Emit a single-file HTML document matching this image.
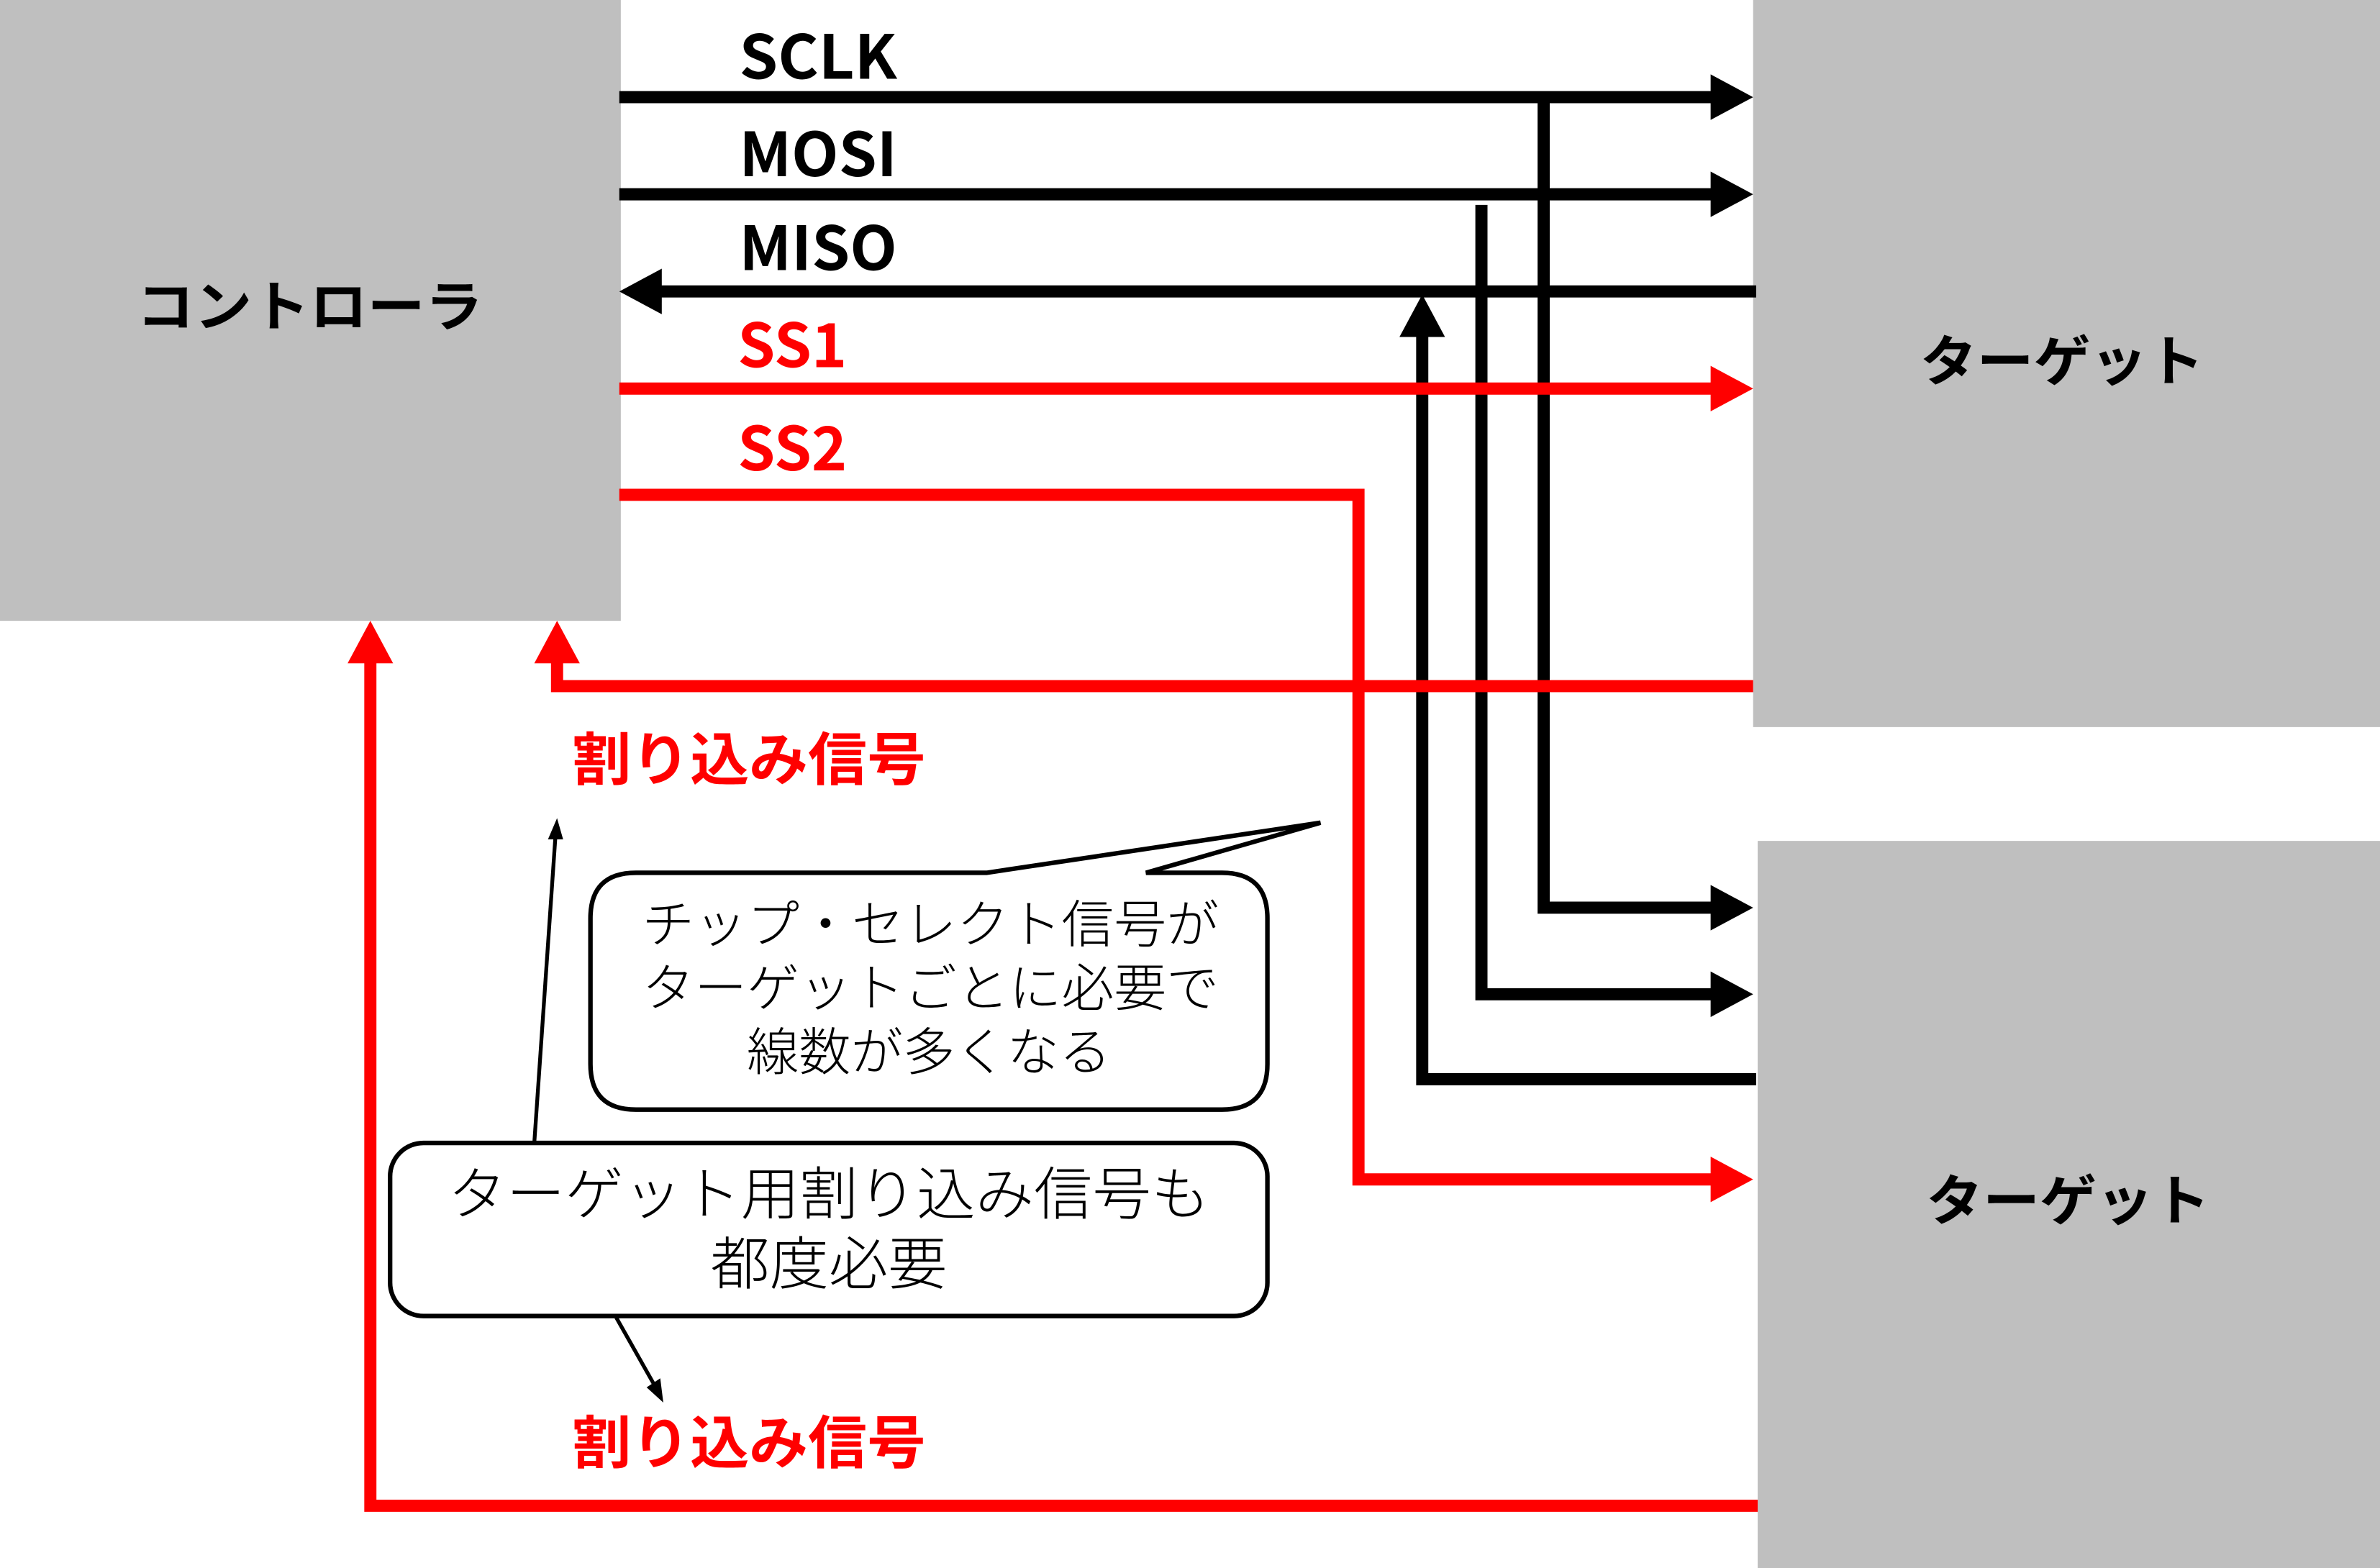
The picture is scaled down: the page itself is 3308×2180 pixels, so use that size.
<!DOCTYPE html>
<html><head><meta charset="utf-8"><style>html,body{margin:0;padding:0;background:#fff}svg{display:block}</style></head>
<body>
<svg width="3308" height="2180" viewBox="0 0 1568 1033" preserveAspectRatio="none" xmlns="http://www.w3.org/2000/svg" font-family="'Liberation Sans','Noto Sans CJK JP',sans-serif">
<rect x="0" y="0" width="409" height="409" fill="#bfbfbf"/>
<rect x="1155" y="0" width="413" height="479" fill="#bfbfbf"/>
<rect x="1158" y="554" width="410" height="479" fill="#bfbfbf"/>
<g font-weight="bold" font-size="36" fill="#000" font-family="'Noto Sans CJK JP',sans-serif" lengthAdjust="spacingAndGlyphs">
<text x="90" y="215" textLength="228" lengthAdjust="spacingAndGlyphs">コントローラ</text>
<text x="1265" y="251" textLength="187" lengthAdjust="spacingAndGlyphs">ターゲット</text>
<text x="1269" y="804" textLength="187" lengthAdjust="spacingAndGlyphs">ターゲット</text>
</g>
<g font-weight="bold" font-size="40" font-family="'Noto Sans CJK JP','Liberation Sans',sans-serif">
<text x="487" y="52" textLength="104" lengthAdjust="spacingAndGlyphs">SCLK</text>
<text x="487" y="116" textLength="104" lengthAdjust="spacingAndGlyphs">MOSI</text>
<text x="487" y="178" textLength="104" lengthAdjust="spacingAndGlyphs">MISO</text>
<text x="486" y="242" fill="#f00" textLength="72" lengthAdjust="spacingAndGlyphs">SS1</text>
<text x="486" y="310" fill="#f00" textLength="72" lengthAdjust="spacingAndGlyphs">SS2</text>
<text x="377" y="514" fill="#f00" font-size="38" textLength="233" lengthAdjust="spacingAndGlyphs">割り込み信号</text>
<text x="377" y="964" fill="#f00" font-size="38" textLength="233" lengthAdjust="spacingAndGlyphs">割り込み信号</text>
</g>
<g stroke="#000" stroke-width="8" fill="none">
<polyline points="408,64 1130,64"/>
<polyline points="408,128 1130,128"/>
<polyline points="1157,192 434,192"/>
<polyline points="1017,68 1017,598 1130,598"/>
<polyline points="976,135 976,655 1130,655"/>
<polyline points="1157,711 937,711 937,220"/>
</g>
<g fill="#000">
<polygon points="1127,49 1155,64 1127,79"/>
<polygon points="1127,113 1155,128 1127,143"/>
<polygon points="436,177 408,192 436,207"/>
<polygon points="1127,583 1155,598 1127,613"/>
<polygon points="1127,640 1155,655 1127,670"/>
<polygon points="922,222 937,194 952,222"/>
</g>
<g stroke="#f00" stroke-width="8" fill="none">
<polyline points="408,256 1130,256"/>
<polyline points="408,326 895,326 895,777 1130,777"/>
<polyline points="1155,452 367,452 367,435"/>
<polyline points="1158,992 244,992 244,435"/>
</g>
<g fill="#f00">
<polygon points="1127,241 1155,256 1127,271"/>
<polygon points="1127,762 1155,777 1127,792"/>
<polygon points="352,437 367,409 382,437"/>
<polygon points="229,437 244,409 259,437"/>
</g>
<path d="M420,575 L650,575 L870,542 L755,575 L805,575 Q835,575 835,605 L835,701 Q835,731 805,731 L419,731 Q389,731 389,701 L389,605 Q389,575 419,575 Z" fill="#fff" stroke="#000" stroke-width="3"/>
<rect x="257" y="753" width="578" height="114" rx="22" fill="#fff" stroke="#000" stroke-width="3"/>
<g stroke="#000" stroke-width="2.5" fill="none">
<line x1="352" y1="753" x2="366" y2="550"/>
<line x1="406" y1="868" x2="432" y2="914"/>
</g>
<polygon points="361,553 367,539 371,553" fill="#000"/>
<polygon points="426,914 437,924 435,908" fill="#000"/>
<g font-size="34" fill="#000" font-family="'Noto Sans CJK JP',sans-serif" font-weight="300">
<text x="423" y="621" textLength="380" lengthAdjust="spacingAndGlyphs">チップ・セレクト信号が</text>
<text x="423" y="663" textLength="380" lengthAdjust="spacingAndGlyphs">ターゲットごとに必要で</text>
<text x="492" y="705" textLength="240" lengthAdjust="spacingAndGlyphs">線数が多くなる</text>
<text x="295" y="800" font-size="38" textLength="502" lengthAdjust="spacingAndGlyphs">ターゲット用割り込み信号も</text>
<text x="468" y="846" font-size="38" textLength="156" lengthAdjust="spacingAndGlyphs">都度必要</text>
</g>
</svg>
</body></html>
